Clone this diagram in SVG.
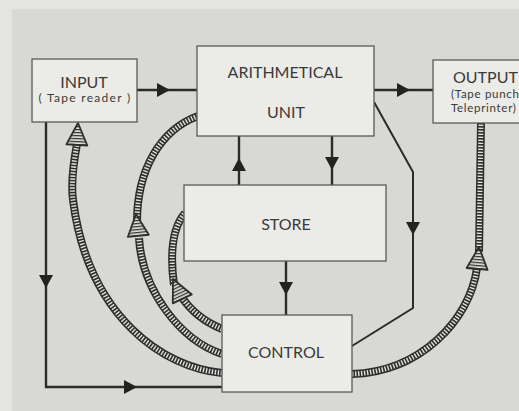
<svg xmlns="http://www.w3.org/2000/svg" xmlns:xlink="http://www.w3.org/1999/xlink" width="519" height="411" viewBox="0 0 519 411">
<style>
.box{fill:#ebebe7;stroke:#5a5a5a;stroke-width:1.3}
.lbl{font-family:Lato,"Open Sans",sans-serif;font-size:16px;fill:#3a3a3a;text-anchor:middle}
.lbs{font-family:Lato,"Open Sans",sans-serif;font-size:16px;fill:#3a3a3a;text-anchor:start}
.sm{font-family:Lato,"Open Sans",sans-serif;font-size:12px;fill:#3a3a3a;text-anchor:middle}
.so{font-family:Lato,"Open Sans",sans-serif;font-size:11.5px;fill:#3a3a3a;text-anchor:start;letter-spacing:0.7px}
.ln{fill:none;stroke:#2b2b2b;stroke-width:2.4}
.to{fill:none;stroke:#2e2e2e;stroke-width:8}
.ti{fill:none;stroke:#e0e0dc;stroke-width:5;stroke-dasharray:1.4 1.6}
</style>
<defs>
<pattern id="st" width="4" height="3" patternUnits="userSpaceOnUse"><rect width="4" height="3" fill="#e2e2de"/><rect width="4" height="1.3" fill="#333"/></pattern>
<path id="ah" d="M0,0 L-13,-7 L-13,7 Z" fill="#222"/>
<path id="hh" d="M0,0 L10.5,22 L-10.5,22 Z" fill="url(#st)" stroke="#2e2e2e" stroke-width="1.8" stroke-linejoin="round"/>
</defs>
<rect width="519" height="411" fill="#e4e5e1"/>
<rect x="12" y="9" width="507" height="402" fill="#d8d9d5"/>

<g id="connectors">
<path class="ln" d="M137,90 H197"/>
<use xlink:href="#ah" transform="translate(170,90)"/>
<path class="ln" d="M374,90 H433"/>
<use xlink:href="#ah" transform="translate(410,90)"/>
<path class="ln" d="M239,185 V136"/>
<use xlink:href="#ah" transform="translate(239,158) rotate(-90)"/>
<path class="ln" d="M332,136 V185"/>
<use xlink:href="#ah" transform="translate(332,170) rotate(90)"/>
<path class="ln" d="M286,261 V315"/>
<use xlink:href="#ah" transform="translate(286,295) rotate(90)"/>
<path class="ln" d="M46,122 V387 H222"/>
<use xlink:href="#ah" transform="translate(46,288) rotate(90)"/>
<use xlink:href="#ah" transform="translate(137,387)"/>
<path class="ln" style="stroke-width:2" d="M374,102 L413,172 V308 L352,346"/>
<use xlink:href="#ah" transform="translate(413,235) rotate(90)"/>

<path class="to" d="M222,373 C165,368 88,318 73,200 C71,185 74,160 77,144"/>
<path class="ti" d="M222,373 C165,368 88,318 73,200 C71,185 74,160 77,144"/>
<use xlink:href="#hh" transform="translate(78,123) rotate(3)"/>

<path class="to" d="M222,354 C180,340 142,290 139,238"/>
<path class="ti" d="M222,354 C180,340 142,290 139,238"/>
<path class="to" d="M137,222 C137,170 160,130 198,116"/>
<path class="ti" d="M137,222 C137,170 160,130 198,116"/>
<use xlink:href="#hh" transform="translate(136,214) rotate(-6)"/>

<path class="to" d="M222,329 C205,322 190,310 181,296"/>
<path class="ti" d="M222,329 C205,322 190,310 181,296"/>
<path class="to" d="M174,285 C170,255 172,228 185,213"/>
<path class="ti" d="M174,285 C170,255 172,228 185,213"/>
<use xlink:href="#hh" transform="translate(173,279) rotate(-25)"/>

<path class="to" d="M352,374 C420,372 470,320 477,268"/>
<path class="ti" d="M352,374 C420,372 470,320 477,268"/>
<path class="to" d="M479,252 L481,123"/>
<path class="ti" d="M479,252 L481,123"/>
<use xlink:href="#hh" transform="translate(479,247) rotate(5)"/>
</g>

<g id="input">
<rect class="box" x="32" y="59" width="105" height="63"/>
<text class="lbl" x="84" y="88">INPUT</text>
<text class="sm" x="85" y="102" letter-spacing="1.3">( Tape reader )</text>
</g>
<g id="arith">
<rect class="box" x="197" y="46" width="177" height="90"/>
<text class="lbl" x="285" y="78">ARITHMETICAL</text>
<text class="lbl" x="286" y="118">UNIT</text>
</g>
<g id="output">
<rect class="box" x="433" y="60" width="100" height="63"/>
<text class="lbs" x="453" y="83">OUTPUT</text>
<text class="so" x="451" y="98">(Tape punch</text>
<text class="so" x="451" y="112">Teleprinter)</text>
</g>
<g id="store">
<rect class="box" x="184" y="185" width="202" height="76"/>
<text class="lbl" x="286" y="230">STORE</text>
</g>
<g id="control">
<rect class="box" x="222" y="315" width="130" height="77"/>
<text class="lbl" x="286" y="358">CONTROL</text>
</g>
</svg>
